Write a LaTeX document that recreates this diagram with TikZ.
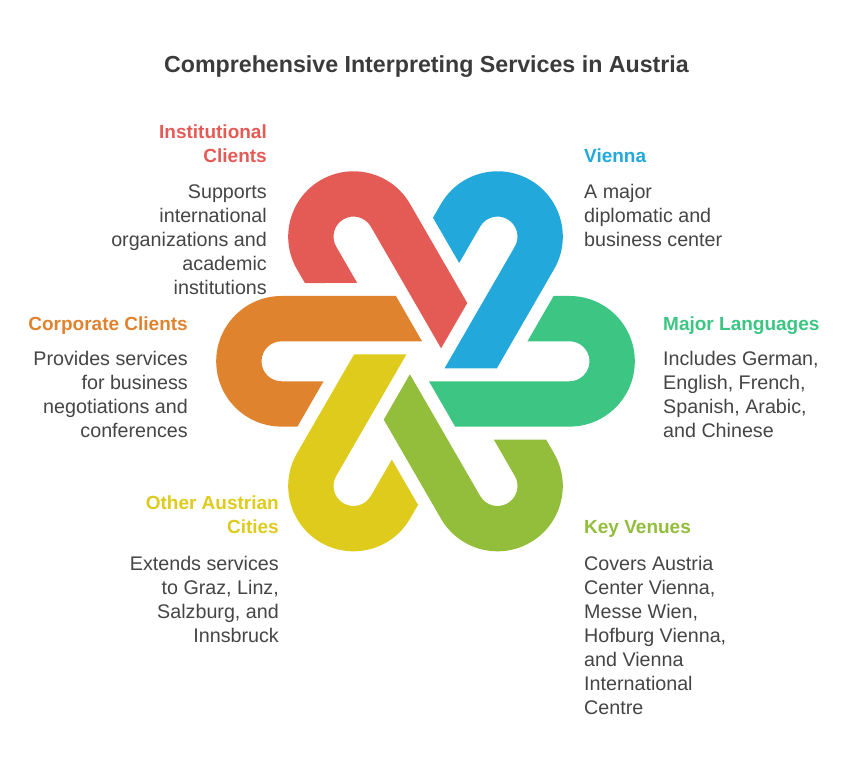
\documentclass[tikz,border=0pt]{standalone}
\usepackage{fontspec}
\setmainfont{Liberation Sans}
\usepackage{tikz}

\definecolor{instred}{HTML}{E45B56}
\definecolor{viennablue}{HTML}{22A8DA}
\definecolor{langgreen}{HTML}{3DC583}
\definecolor{venuelime}{HTML}{92BE3B}
\definecolor{cityyellow}{HTML}{DECB1C}
\definecolor{corporange}{HTML}{E0832F}
\definecolor{titlegray}{HTML}{3B3B3B}
\definecolor{bodygray}{HTML}{454545}

\begin{document}
\begin{tikzpicture}[x=1pt, y=1pt,
        titletext/.style={font=\fontsize{23.2}{26}\selectfont\bfseries, text=titlegray, inner sep=0pt},
        headtext/.style={font=\fontsize{19}{24}\selectfont\bfseries, inner sep=0pt},
        bodytext/.style={font=\fontsize{19.7}{24}\selectfont, text=bodygray, inner sep=0pt} ]
        \useasboundingbox (0,0) rectangle (854,768);
        \fill[white] (0,0) rectangle (854,768);

        % six hairpins round the centre
        \begin{scope}[shift={(425.5,406.7)}]
        \foreach \ang/\col in {0/corporange, -60/instred, -120/viennablue, -180/langgreen, -240/venuelime, -300/cityyellow}{
            \fill[\col, rotate=\ang] (-29.6,65.3) -- (-3.46,20) -- (-144,20)
                arc[start angle=90, end angle=270, radius=20] -- (-101.96,-20) -- (-128.1,-65.3) -- (-144,-65.3)
                arc[start angle=270, end angle=90, radius=65.3] -- cycle;
        }
        \end{scope}

        \node[titletext, anchor=base] (title) at (426.5,695) {Comprehensive Interpreting Services in Austria};

        \node[headtext, text=instred, anchor=north east, align=right] (inst) at (267,646.8) {\strut Institutional\\\strut Clients};
        \node[bodytext, anchor=north east, align=right] (instdesc) at (267,586.8) {\strut Supports\\\strut international\\\strut organizations and\\\strut academic\\\strut institutions};

        \node[headtext, text=viennablue, anchor=north west, align=left] (vienna) at (584,622.8) {\strut Vienna};
        \node[bodytext, anchor=north west, align=left] (viennadesc) at (584,586.8) {\strut A major\\\strut diplomatic and\\\strut business center};

        \node[headtext, text=corporange, anchor=north east, align=right] (corp) at (188,454.8) {\strut Corporate Clients};
        \node[bodytext, anchor=north east, align=right] (corpdesc) at (188,419.8) {\strut Provides services\\\strut for business\\\strut negotiations and\\\strut conferences};

        \node[headtext, text=langgreen, anchor=north west, align=left] (lang) at (663,454.8) {\strut Major Languages};
        \node[bodytext, anchor=north west, align=left] (langdesc) at (663,419.8) {\strut Includes German,\\\strut English, French,\\\strut Spanish, Arabic,\\\strut and Chinese};

        \node[headtext, text=cityyellow, anchor=north east, align=right] (cities) at (279,275.8) {\strut Other Austrian\\\strut Cities};
        \node[bodytext, anchor=north east, align=right] (citiesdesc) at (279,214.8) {\strut Extends services\\\strut to Graz, Linz,\\\strut Salzburg, and\\\strut Innsbruck};

        \node[headtext, text=venuelime, anchor=north west, align=left] (venues) at (584,251.8) {\strut Key Venues};
        \node[bodytext, anchor=north west, align=left] (venuesdesc) at (584,214.8) {\strut Covers Austria\\\strut Center Vienna,\\\strut Messe Wien,\\\strut Hofburg Vienna,\\\strut and Vienna\\\strut International\\\strut Centre};
    \end{tikzpicture}
\end{document}
